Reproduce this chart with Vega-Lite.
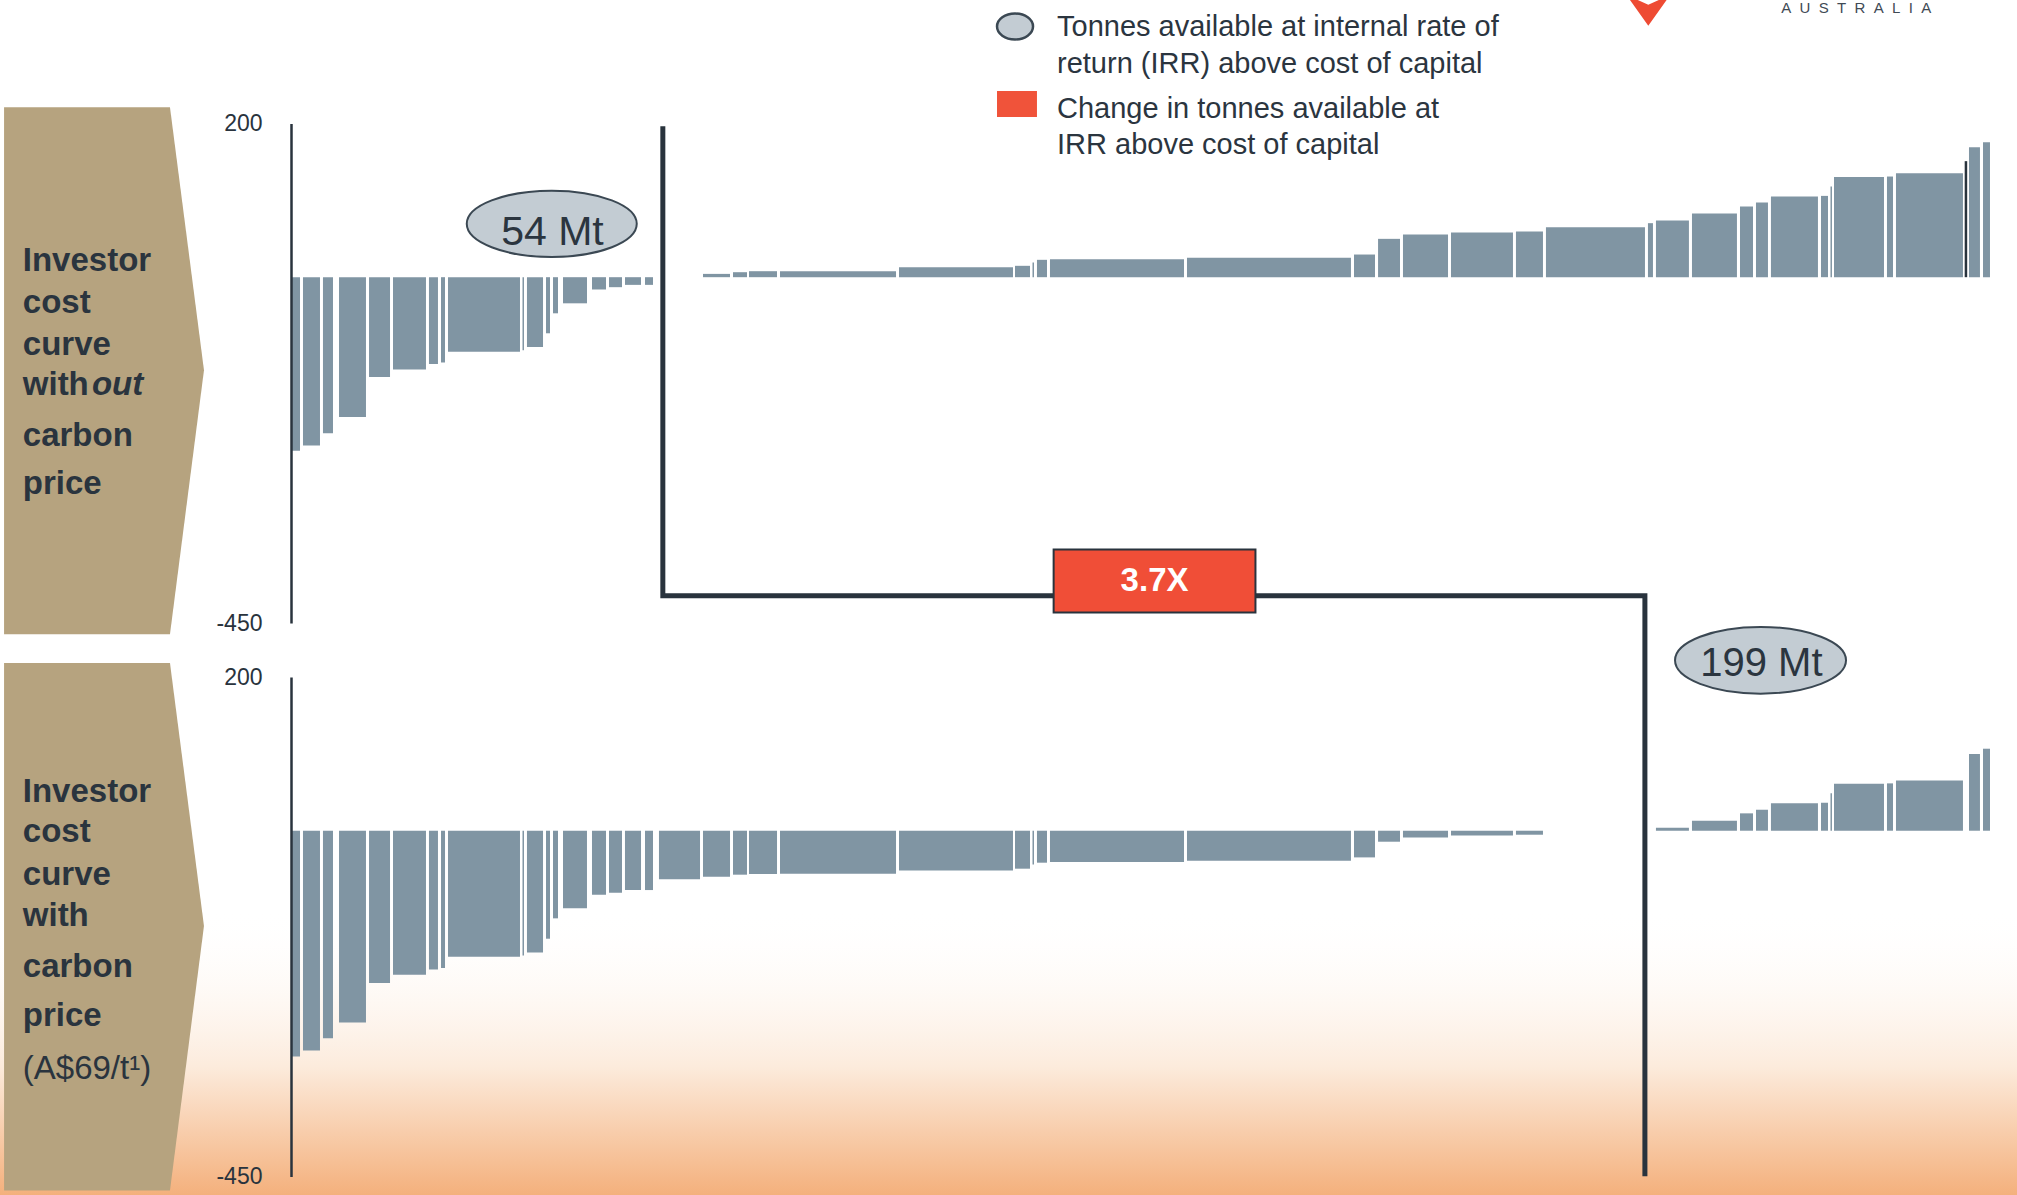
{
"$schema": "https://vega.github.io/schema/vega-lite/v6.json",
"width": 2017, "height": 1195,
"autosize": {"type": "none"},
"padding": 0,
"background": "#ffffff",
"config": {"view": {"stroke": null}, "font": "Liberation Sans"},
"datasets": {
 "top": [
  {"x0":0.0,"x1":1.33,"v":-226},{"x0":1.77,"x1":4.28,"v":-219},{"x0":4.72,"x1":6.2,"v":-203},{"x0":7.09,"x1":11.07,"v":-182},
  {"x0":11.52,"x1":14.62,"v":-130},{"x0":15.06,"x1":19.93,"v":-120},{"x0":20.37,"x1":21.7,"v":-113},{"x0":22.15,"x1":22.74,"v":-111},
  {"x0":23.18,"x1":33.81,"v":-97},{"x0":34.18,"x1":34.4,"v":-95},{"x0":34.84,"x1":37.21,"v":-91},{"x0":37.65,"x1":38.24,"v":-73},
  {"x0":38.68,"x1":39.42,"v":-47},{"x0":40.16,"x1":43.7,"v":-34},{"x0":44.44,"x1":46.51,"v":-16},{"x0":46.95,"x1":48.87,"v":-13},
  {"x0":49.31,"x1":51.68,"v":-10},{"x0":52.27,"x1":53.45,"v":-10},{"x0":54.33,"x1":60.39,"v":0},
  {"x0":60.83,"x1":64.82,"v":4.3},{"x0":65.26,"x1":67.33,"v":6.5},{"x0":67.62,"x1":71.76,"v":7.8},{"x0":72.2,"x1":89.33,"v":7.8},
  {"x0":89.77,"x1":106.6,"v":13},{"x0":106.9,"x1":109.11,"v":14.8},{"x0":109.48,"x1":109.7,"v":19},{"x0":110.14,"x1":111.62,"v":22.6},
  {"x0":112.06,"x1":131.85,"v":23.4},{"x0":132.29,"x1":156.5,"v":25.2},{"x0":156.95,"x1":160.05,"v":29.5},{"x0":160.5,"x1":163.74,"v":49.9},
  {"x0":164.18,"x1":170.83,"v":55.5},{"x0":171.27,"x1":180.42,"v":58.1},{"x0":180.86,"x1":184.85,"v":59.4},{"x0":185.29,"x1":199.91,"v":65},
  {"x0":200.35,"x1":201.09,"v":70.3},{"x0":201.53,"x1":206.4,"v":73.8},{"x0":206.85,"x1":213.49,"v":82.9},{"x0":213.94,"x1":215.86,"v":92},
  {"x0":216.3,"x1":218.07,"v":97.2},{"x0":218.51,"x1":225.45,"v":105},{"x0":225.9,"x1":226.93,"v":105.8},{"x0":227.3,"x1":227.52,"v":118},
  {"x0":227.82,"x1":235.2,"v":130.5},{"x0":235.64,"x1":236.53,"v":131},{"x0":236.97,"x1":246.86,"v":135.3},{"x0":247.75,"x1":249.37,"v":169},
  {"x0":249.82,"x1":250.85,"v":175.7}
 ],
 "bottom": [
  {"x0":0.0,"x1":1.33,"v":-293.7},{"x0":1.77,"x1":4.28,"v":-285.9},{"x0":4.72,"x1":6.2,"v":-270},{"x0":7.09,"x1":11.07,"v":-249.4},
  {"x0":11.52,"x1":14.62,"v":-198},{"x0":15.06,"x1":19.93,"v":-187.4},{"x0":20.37,"x1":21.7,"v":-180.4},{"x0":22.15,"x1":22.74,"v":-178.7},
  {"x0":23.18,"x1":33.81,"v":-164},{"x0":34.18,"x1":34.4,"v":-162.5},{"x0":34.84,"x1":37.21,"v":-158.3},{"x0":37.65,"x1":38.24,"v":-140.5},
  {"x0":38.68,"x1":39.42,"v":-114},{"x0":40.16,"x1":43.7,"v":-101},{"x0":44.44,"x1":46.51,"v":-83.3},{"x0":46.95,"x1":48.87,"v":-80.7},
  {"x0":49.31,"x1":51.68,"v":-77.2},{"x0":52.27,"x1":53.45,"v":-77.2},{"x0":54.33,"x1":60.39,"v":-63},
  {"x0":60.83,"x1":64.82,"v":-59.8},{"x0":65.26,"x1":67.33,"v":-57.2},{"x0":67.62,"x1":71.76,"v":-56.4},{"x0":72.2,"x1":89.33,"v":-56},
  {"x0":89.77,"x1":106.6,"v":-51.6},{"x0":106.9,"x1":109.11,"v":-49.4},{"x0":109.48,"x1":109.7,"v":-44},{"x0":110.14,"x1":111.62,"v":-41.6},
  {"x0":112.06,"x1":131.85,"v":-40.8},{"x0":132.29,"x1":156.5,"v":-39},{"x0":156.95,"x1":160.05,"v":-34.7},{"x0":160.5,"x1":163.74,"v":-14.3},
  {"x0":164.18,"x1":170.83,"v":-8.7},{"x0":171.27,"x1":180.42,"v":-6.1},{"x0":180.86,"x1":184.85,"v":-5.2},{"x0":185.29,"x1":199.91,"v":0},
  {"x0":200.35,"x1":201.09,"v":0},{"x0":201.53,"x1":206.4,"v":3.9},{"x0":206.85,"x1":213.49,"v":13},{"x0":213.94,"x1":215.86,"v":22.6},
  {"x0":216.3,"x1":218.07,"v":27.3},{"x0":218.51,"x1":225.45,"v":35.6},{"x0":225.9,"x1":226.93,"v":36.4},{"x0":227.3,"x1":227.52,"v":48.6},
  {"x0":227.82,"x1":235.2,"v":61.2},{"x0":235.64,"x1":236.53,"v":61.6},{"x0":236.97,"x1":246.86,"v":65.5},{"x0":247.75,"x1":249.37,"v":99.8},
  {"x0":249.82,"x1":250.85,"v":106.7}
 ]
},
"layer": [
 {"layer": [
  {"data": {"values": [{"x0": -43, "x1": 255, "y0": -822, "y1": -1195}]},
   "mark": {"type": "rect", "color": {"gradient": "linear", "x1": 0, "y1": 0, "x2": 0, "y2": 1, "stops": [{"offset": 0, "color": "rgba(255,255,255,0)"}, {"offset": 0.55, "color": "#fcebdc"}, {"offset": 1, "color": "#f4b07c"}]}},
   "encoding": {
    "x": {"field": "x0", "type": "quantitative", "scale": {"domain": [0, 251], "range": [291, 1991], "nice": false, "zero": false}, "axis": null},
    "x2": {"field": "x1"},
    "y": {"field": "y0", "type": "quantitative", "scale": {"domain": [-450, 200], "range": [623, 123.5], "nice": false, "zero": false}},
    "y2": {"field": "y1"}
   }},
  {"data": {"name": "top"},
   "mark": {"type": "bar", "color": "#8095a3"},
   "encoding": {
    "x": {"field": "x0", "type": "quantitative", "scale": {"domain": [0, 251], "range": [291, 1991], "nice": false, "zero": false}, "axis": null},
    "x2": {"field": "x1"},
    "y": {"field": "v", "type": "quantitative", "scale": {"domain": [-450, 200], "range": [623, 123.5], "nice": false, "zero": false},
      "axis": {"values": [-450, 200], "orient": "left", "offset": -291, "domain": true, "domainColor": "#29333d", "domainWidth": 2.5, "ticks": false, "tickSize": 0, "grid": false, "title": null, "labelExpr": "'' + datum.value", "labelFont": "Liberation Sans", "labelFontSize": 23, "labelColor": "#29333d", "labelPadding": 29, "labelFlush": false, "labelOverlap": false, "zindex": 1}},
    "y2": {"datum": 0}
   }},
  {"data": {"values": [{"x": 247.3, "v": 151}]},
   "mark": {"type": "rule", "color": "#29333d", "strokeWidth": 2.5},
   "encoding": {
    "x": {"field": "x", "type": "quantitative", "scale": {"domain": [0, 251], "range": [291, 1991], "nice": false, "zero": false}, "axis": null},
    "y": {"field": "v", "type": "quantitative", "scale": {"domain": [-450, 200], "range": [623, 123.5], "nice": false, "zero": false}},
    "y2": {"datum": 0}
   }},
  {"mark": {"type": "rule", "color": "#29333d", "strokeWidth": 3},
   "encoding": {
    "x": {"datum": 0, "type": "quantitative", "scale": {"domain": [0, 251], "range": [291, 1991], "nice": false, "zero": false}, "axis": null},
    "x2": {"datum": 251},
    "y": {"datum": 0, "type": "quantitative", "scale": {"domain": [-450, 200], "range": [623, 123.5], "nice": false, "zero": false}}
   }},
  {"data": {"values": [{"x": 54.9, "y": 196.5, "o": 1}, {"x": 54.9, "y": -414.6, "o": 2}, {"x": 199.9, "y": -414.6, "o": 3}, {"x": 199.9, "y": -1169.8, "o": 4}]},
   "mark": {"type": "line", "color": "#29333d", "strokeWidth": 5, "strokeJoin": "miter", "strokeCap": "butt"},
   "encoding": {
    "x": {"field": "x", "type": "quantitative", "scale": {"domain": [0, 251], "range": [291, 1991], "nice": false, "zero": false}, "axis": null},
    "y": {"field": "y", "type": "quantitative", "scale": {"domain": [-450, 200], "range": [623, 123.5], "nice": false, "zero": false}},
    "order": {"field": "o", "type": "quantitative"}
   }},
  {"data": {"values": [{"x0": 112.6, "x1": 142.4, "y0": -354.3, "y1": -436.3}]},
   "mark": {"type": "rect", "color": "#f04e37", "stroke": "#29333d", "strokeWidth": 2},
   "encoding": {
    "x": {"field": "x0", "type": "quantitative", "scale": {"domain": [0, 251], "range": [291, 1991], "nice": false, "zero": false}, "axis": null},
    "x2": {"field": "x1"},
    "y": {"field": "y0", "type": "quantitative", "scale": {"domain": [-450, 200], "range": [623, 123.5], "nice": false, "zero": false}},
    "y2": {"field": "y1"}
   }},
  {"data": {"values": [{"x": 127.5, "y": -395.3, "t": "3.7X"}]},
   "mark": {"type": "text", "font": "Liberation Sans", "fontWeight": "bold", "fontSize": 33, "color": "#ffffff", "align": "center", "baseline": "middle"},
   "encoding": {
    "x": {"field": "x", "type": "quantitative", "scale": {"domain": [0, 251], "range": [291, 1991], "nice": false, "zero": false}, "axis": null},
    "y": {"field": "y", "type": "quantitative", "scale": {"domain": [-450, 200], "range": [623, 123.5], "nice": false, "zero": false}},
    "text": {"field": "t"}
   }},
  {"data": {"values": [{"x": 38.5, "y": 69.4}]},
   "mark": {"type": "point", "shape": "M 1,0 C 1,0.2154 0.5523,0.39 0,0.39 C -0.5523,0.39 -1,0.2154 -1,0 C -1,-0.2154 -0.5523,-0.39 0,-0.39 C 0.5523,-0.39 1,-0.2154 1,0 Z", "size": 28900, "filled": true, "color": "#c3ccd3", "stroke": "#3b4853", "strokeWidth": 2, "opacity": 1},
   "encoding": {
    "x": {"field": "x", "type": "quantitative", "scale": {"domain": [0, 251], "range": [291, 1991], "nice": false, "zero": false}, "axis": null},
    "y": {"field": "y", "type": "quantitative", "scale": {"domain": [-450, 200], "range": [623, 123.5], "nice": false, "zero": false}}
   }},
  {"data": {"values": [{"x": 38.6, "y": 41.6, "t": "54 Mt"}]},
   "mark": {"type": "text", "font": "Liberation Sans", "fontSize": 41, "color": "#2b353f", "align": "center", "baseline": "alphabetic"},
   "encoding": {
    "x": {"field": "x", "type": "quantitative", "scale": {"domain": [0, 251], "range": [291, 1991], "nice": false, "zero": false}, "axis": null},
    "y": {"field": "y", "type": "quantitative", "scale": {"domain": [-450, 200], "range": [623, 123.5], "nice": false, "zero": false}},
    "text": {"field": "t"}
   }},
  {"data": {"values": [{"x": 106.9, "y": 326.2}]},
   "mark": {"type": "point", "shape": "M 1,0 C 1,0.3977 0.5523,0.72 0,0.72 C -0.5523,0.72 -1,0.3977 -1,0 C -1,-0.3977 -0.5523,-0.72 0,-0.72 C 0.5523,-0.72 1,-0.3977 1,0 Z", "size": 1296, "filled": true, "color": "#c3ccd3", "stroke": "#3b4853", "strokeWidth": 2.5, "opacity": 1},
   "encoding": {
    "x": {"field": "x", "type": "quantitative", "scale": {"domain": [0, 251], "range": [291, 1991], "nice": false, "zero": false}, "axis": null},
    "y": {"field": "y", "type": "quantitative", "scale": {"domain": [-450, 200], "range": [623, 123.5], "nice": false, "zero": false}}
   }},
  {"data": {"values": [{"x0": 104.24, "x1": 110.14, "y0": 242.4, "y1": 208.6}]},
   "mark": {"type": "rect", "color": "#f0533a"},
   "encoding": {
    "x": {"field": "x0", "type": "quantitative", "scale": {"domain": [0, 251], "range": [291, 1991], "nice": false, "zero": false}, "axis": null},
    "x2": {"field": "x1"},
    "y": {"field": "y0", "type": "quantitative", "scale": {"domain": [-450, 200], "range": [623, 123.5], "nice": false, "zero": false}},
    "y2": {"field": "y1"}
   }},
  {"data": {"values": [
    {"x": 113.1, "y": 313.6, "t": "Tonnes available at internal rate of"},
    {"x": 113.1, "y": 265.8, "t": "return (IRR) above cost of capital"},
    {"x": 113.1, "y": 207.8, "t": "Change in tonnes available at"},
    {"x": 113.1, "y": 160.1, "t": "IRR above cost of capital"}]},
   "mark": {"type": "text", "font": "Liberation Sans", "fontSize": 29, "color": "#2b353f", "align": "left", "baseline": "alphabetic"},
   "encoding": {
    "x": {"field": "x", "type": "quantitative", "scale": {"domain": [0, 251], "range": [291, 1991], "nice": false, "zero": false}, "axis": null},
    "y": {"field": "y", "type": "quantitative", "scale": {"domain": [-450, 200], "range": [623, 123.5], "nice": false, "zero": false}},
    "text": {"field": "t"}
   }},
  {"data": {"values": [{"y": 221.2, "xr": -17.87, "xl": -42.37}, {"y": -121.0, "xr": -12.85, "xl": -42.37}, {"y": -464.5, "xr": -17.87, "xl": -42.37}]},
   "mark": {"type": "area", "orient": "horizontal", "color": "#b6a37f", "opacity": 1},
   "encoding": {
    "y": {"field": "y", "type": "quantitative", "scale": {"domain": [-450, 200], "range": [623, 123.5], "nice": false, "zero": false}},
    "x": {"field": "xr", "type": "quantitative", "scale": {"domain": [0, 251], "range": [291, 1991], "nice": false, "zero": false}, "axis": null},
    "x2": {"field": "xl"}
   }},
  {"data": {"values": [
    {"x": -39.6, "y": 7.8, "t": "Investor"}, {"x": -39.6, "y": -46.2, "t": "cost"}, {"x": -39.6, "y": -101.2, "t": "curve"},
    {"x": -39.6, "y": -153.5, "t": "with"}, {"x": -39.6, "y": -219.1, "t": "carbon"}, {"x": -39.6, "y": -281.8, "t": "price"}]},
   "mark": {"type": "text", "font": "Liberation Sans", "fontWeight": "bold", "fontSize": 33, "color": "#2a343e", "align": "left", "baseline": "alphabetic"},
   "encoding": {
    "x": {"field": "x", "type": "quantitative", "scale": {"domain": [0, 251], "range": [291, 1991], "nice": false, "zero": false}, "axis": null},
    "y": {"field": "y", "type": "quantitative", "scale": {"domain": [-450, 200], "range": [623, 123.5], "nice": false, "zero": false}},
    "text": {"field": "t"}
   }},
  {"data": {"values": [{"x": -29.4, "y": -153.5, "t": "out"}]},
   "mark": {"type": "text", "font": "Liberation Sans", "fontWeight": "bold", "fontStyle": "italic", "fontSize": 33, "color": "#2a343e", "align": "left", "baseline": "alphabetic"},
   "encoding": {
    "x": {"field": "x", "type": "quantitative", "scale": {"domain": [0, 251], "range": [291, 1991], "nice": false, "zero": false}, "axis": null},
    "y": {"field": "y", "type": "quantitative", "scale": {"domain": [-450, 200], "range": [623, 123.5], "nice": false, "zero": false}},
    "text": {"field": "t"}
   }},
  {"data": {"values": [{"x": 200.4, "y": 347.4}]},
   "mark": {"type": "point", "shape": "M -1,-0.7 L 0,-0.25 L 1,-0.7 L 0,0.7 Z", "size": 1936, "filled": true, "color": "#ee4b33", "opacity": 1},
   "encoding": {
    "x": {"field": "x", "type": "quantitative", "scale": {"domain": [0, 251], "range": [291, 1991], "nice": false, "zero": false}, "axis": null},
    "y": {"field": "y", "type": "quantitative", "scale": {"domain": [-450, 200], "range": [623, 123.5], "nice": false, "zero": false}}
   }},
  {"data": {"values": [{"x": 231.1, "y": 343.5, "t": "A\u00a0\u00a0U\u00a0\u00a0S\u00a0\u00a0T\u00a0\u00a0R\u00a0\u00a0A\u00a0\u00a0L\u00a0\u00a0I\u00a0\u00a0A"}]},
   "mark": {"type": "text", "font": "Liberation Sans", "fontSize": 15, "color": "#3f4a55", "align": "center", "baseline": "alphabetic"},
   "encoding": {
    "x": {"field": "x", "type": "quantitative", "scale": {"domain": [0, 251], "range": [291, 1991], "nice": false, "zero": false}, "axis": null},
    "y": {"field": "y", "type": "quantitative", "scale": {"domain": [-450, 200], "range": [623, 123.5], "nice": false, "zero": false}},
    "text": {"field": "t"}
   }}
 ]},
 {"layer": [
  {"data": {"name": "bottom"},
   "mark": {"type": "bar", "color": "#8095a3"},
   "encoding": {
    "x": {"field": "x0", "type": "quantitative", "scale": {"domain": [0, 251], "range": [291, 1991], "nice": false, "zero": false}, "axis": null},
    "x2": {"field": "x1"},
    "y": {"field": "v", "type": "quantitative", "scale": {"domain": [-450, 200], "range": [1176.6, 677], "nice": false, "zero": false},
      "axis": {"values": [-450, 200], "orient": "left", "offset": -291, "domain": true, "domainColor": "#29333d", "domainWidth": 2.5, "ticks": false, "tickSize": 0, "grid": false, "title": null, "labelExpr": "'' + datum.value", "labelFont": "Liberation Sans", "labelFontSize": 23, "labelColor": "#29333d", "labelPadding": 29, "labelFlush": false, "labelOverlap": false, "zindex": 1}},
    "y2": {"datum": 0}
   }},
  {"mark": {"type": "rule", "color": "#29333d", "strokeWidth": 3},
   "encoding": {
    "x": {"datum": 0, "type": "quantitative", "scale": {"domain": [0, 251], "range": [291, 1991], "nice": false, "zero": false}, "axis": null},
    "x2": {"datum": 251},
    "y": {"datum": 0, "type": "quantitative", "scale": {"domain": [-450, 200], "range": [1176.6, 677], "nice": false, "zero": false}}
   }},
  {"data": {"values": [{"x": 216.97, "y": 221.7}]},
   "mark": {"type": "point", "shape": "M 1,0 C 1,0.2154 0.5523,0.39 0,0.39 C -0.5523,0.39 -1,0.2154 -1,0 C -1,-0.2154 -0.5523,-0.39 0,-0.39 C 0.5523,-0.39 1,-0.2154 1,0 Z", "size": 29241, "filled": true, "color": "#c3ccd3", "stroke": "#3b4853", "strokeWidth": 2, "opacity": 1},
   "encoding": {
    "x": {"field": "x", "type": "quantitative", "scale": {"domain": [0, 251], "range": [291, 1991], "nice": false, "zero": false}, "axis": null},
    "y": {"field": "y", "type": "quantitative", "scale": {"domain": [-450, 200], "range": [1176.6, 677], "nice": false, "zero": false}}
   }},
  {"data": {"values": [{"x": 217.1, "y": 201.3, "t": "199 Mt"}]},
   "mark": {"type": "text", "font": "Liberation Sans", "fontSize": 40, "color": "#2b353f", "align": "center", "baseline": "alphabetic"},
   "encoding": {
    "x": {"field": "x", "type": "quantitative", "scale": {"domain": [0, 251], "range": [291, 1991], "nice": false, "zero": false}, "axis": null},
    "y": {"field": "y", "type": "quantitative", "scale": {"domain": [-450, 200], "range": [1176.6, 677], "nice": false, "zero": false}},
    "text": {"field": "t"}
   }},
  {"data": {"values": [{"y": 218.2, "xr": -17.87, "xl": -42.37}, {"y": -124.0, "xr": -12.85, "xl": -42.37}, {"y": -468.2, "xr": -17.87, "xl": -42.37}]},
   "mark": {"type": "area", "orient": "horizontal", "color": "#b6a37f", "opacity": 1},
   "encoding": {
    "y": {"field": "y", "type": "quantitative", "scale": {"domain": [-450, 200], "range": [1176.6, 677], "nice": false, "zero": false}},
    "x": {"field": "xr", "type": "quantitative", "scale": {"domain": [0, 251], "range": [291, 1991], "nice": false, "zero": false}, "axis": null},
    "x2": {"field": "xl"}
   }},
  {"data": {"values": [
    {"x": -39.6, "y": 37.5, "t": "Investor"}, {"x": -39.6, "y": -15.0, "t": "cost"}, {"x": -39.6, "y": -70.7, "t": "curve"},
    {"x": -39.6, "y": -124.4, "t": "with"}, {"x": -39.6, "y": -190.0, "t": "carbon"}, {"x": -39.6, "y": -254.1, "t": "price"}]},
   "mark": {"type": "text", "font": "Liberation Sans", "fontWeight": "bold", "fontSize": 33, "color": "#2a343e", "align": "left", "baseline": "alphabetic"},
   "encoding": {
    "x": {"field": "x", "type": "quantitative", "scale": {"domain": [0, 251], "range": [291, 1991], "nice": false, "zero": false}, "axis": null},
    "y": {"field": "y", "type": "quantitative", "scale": {"domain": [-450, 200], "range": [1176.6, 677], "nice": false, "zero": false}},
    "text": {"field": "t"}
   }},
  {"data": {"values": [{"x": -39.6, "y": -323.5, "t": "(A$69/t¹)"}]},
   "mark": {"type": "text", "font": "Liberation Sans", "fontSize": 33, "color": "#2a343e", "align": "left", "baseline": "alphabetic"},
   "encoding": {
    "x": {"field": "x", "type": "quantitative", "scale": {"domain": [0, 251], "range": [291, 1991], "nice": false, "zero": false}, "axis": null},
    "y": {"field": "y", "type": "quantitative", "scale": {"domain": [-450, 200], "range": [1176.6, 677], "nice": false, "zero": false}},
    "text": {"field": "t"}
   }}
 ]}
],
"resolve": {"scale": {"y": "independent"}, "axis": {"y": "independent"}}
}
